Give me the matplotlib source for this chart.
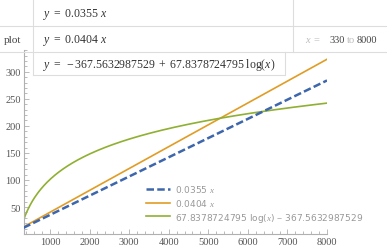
import matplotlib
matplotlib.use("Agg")
import matplotlib.pyplot as plt
from matplotlib.ticker import MultipleLocator
import numpy as np

plt.rcParams['mathtext.fontset'] = 'custom'
plt.rcParams['mathtext.rm'] = 'Liberation Serif'
plt.rcParams['mathtext.it'] = 'Liberation Serif:italic'

# fitted models shown in the table
x_min, x_max = 330, 8000
slope_a = 0.0355
slope_b = 0.0404
log_a = -367.5632987529
log_b = 67.8378724795

formulas = [r"$y\ =\ 0.0355\ x$",
            r"$y\ =\ 0.0404\ x$",
            r"$y\ =\ -367.5632987529\ +\ 67.8378724795\ \log(x)$"]
labels = [r"0.0355 $x$", r"0.0404 $x$", r"67.8378724795 log($x$) $-$ 367.5632987529"]
colors = ['#3d66ad', '#e19c24', '#8fb032']

W, H = 387, 253
fig = plt.figure(figsize=(W / 100, H / 100), dpi=100)

# main plot (pixel layout)
left, right, bottom, top = 23.5, 327, 235.1, 51
ax = fig.add_axes([left / W, 1 - bottom / H, (right - left) / W, (bottom - top) / H])

xs = np.linspace(x_min, x_max, 400)
ax.plot(xs, slope_b * xs, color=colors[1], lw=1.2, label=labels[1], zorder=2)
ax.plot(xs, log_a + log_b * np.log(xs), color=colors[2], lw=1.2, label=labels[2], zorder=2)
ax.plot(xs, slope_a * xs, color=colors[0], lw=1.8, dashes=(3, 1.3), label=labels[0], zorder=3)

ax.set_xlim(x_min, x_max)
ax.set_ylim(0, (bottom - top) / 0.541)
for s in ['top', 'right']:
    ax.spines[s].set_visible(False)
for s in ['left', 'bottom']:
    ax.spines[s].set_color('#b0b0b0')
    ax.spines[s].set_linewidth(0.8)
ax.set_xticks(range(1000, 8001, 1000))
ax.set_yticks(range(50, 301, 50))
ax.xaxis.set_minor_locator(MultipleLocator(200))
ax.yaxis.set_minor_locator(MultipleLocator(10))
ax.tick_params(which='both', direction='in', color='#b0b0b0', width=0.6,
               labelsize=7.5, labelcolor='#555555', pad=2)
ax.tick_params(which='major', length=3.5)
ax.tick_params(which='minor', length=2)
for t in ax.get_xticklabels() + ax.get_yticklabels():
    t.set_family('Liberation Serif')

h, l = ax.get_legend_handles_labels()
order = [2, 0, 1]
leg = ax.legend([h[i] for i in order], [l[i] for i in order],
                loc='upper left', bbox_to_anchor=(138 / W, 1 - 176 / H),
                bbox_transform=fig.transFigure, frameon=False, fontsize=6.5,
                handlelength=2.6, handletextpad=0.6, labelspacing=0.3)
for t in leg.get_texts():
    t.set_color('#999999')

# table overlay in pixel coordinates
ov = fig.add_axes([0, 0, 1, 1])
ov.set_xlim(0, W)
ov.set_ylim(H, 0)
ov.axis('off')
ov.patch.set_alpha(0)

gc = '#dddddd'
ov.add_patch(plt.Rectangle((33, 0), 260, 53, facecolor='white', edgecolor='none'))
ov.add_patch(plt.Rectangle((33, 53), 252, 23, facecolor='white', edgecolor='none'))
ov.plot([0, W], [27, 27], color=gc, lw=0.8)
ov.plot([0, W], [53, 53], color=gc, lw=0.8)
ov.plot([33, 33], [0, 76], color=gc, lw=0.8)
ov.plot([293, 293], [0, 53], color=gc, lw=0.8)
ov.plot([33, 285, 285], [76, 76, 53], color=gc, lw=0.8)

for yy, f in zip([14, 40, 65], formulas):
    ov.text(43, yy, f, fontsize=8.5, color='#333333', va='center', ha='left')

ov.text(4, 40, "plot", fontsize=8, color='#444444', va='center', ha='left',
        family='Liberation Serif')
ov.text(305, 40, r"$x\ =$", fontsize=7.5, color='#bbbbbb', va='center', ha='left')
ov.text(330, 40, "330", fontsize=7.5, color='#444444', va='center', ha='left',
        family='Liberation Serif')
ov.text(347, 40, "to", fontsize=7.5, color='#bbbbbb', va='center', ha='left',
        family='Liberation Serif')
ov.text(357, 40, "8000", fontsize=7.5, color='#444444', va='center', ha='left',
        family='Liberation Serif')

fig.savefig("out.png", dpi=100)
